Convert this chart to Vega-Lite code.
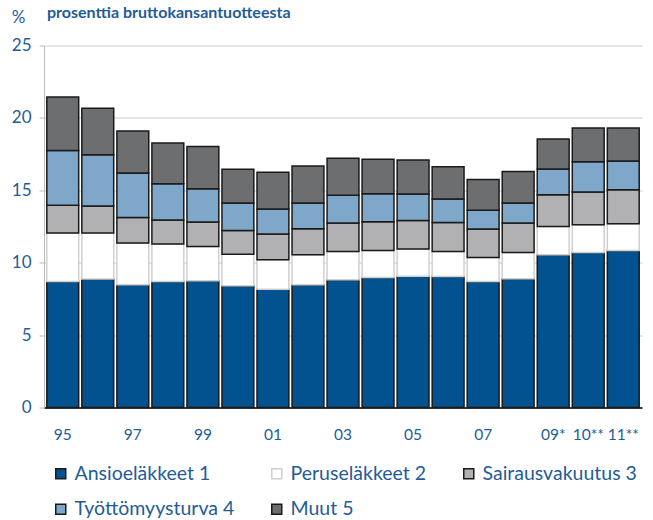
{
  "$schema": "https://vega.github.io/schema/vega-lite/v6.json",
  "autosize": "none",
  "width": 598,
  "height": 362,
  "padding": {"left": 44, "top": 45.5, "right": 11, "bottom": 112.5},
  "background": "white",
  "title": {
    "text": "prosenttia bruttokansantuotteesta",
    "anchor": "start",
    "frame": "group",
    "font": "Lato",
    "fontSize": 16,
    "fontWeight": "bold",
    "color": "#1f5c99",
    "baseline": "top",
    "offset": 0,
    "dx": 3,
    "dy": 12
  },
  "config": {
    "view": {"stroke": null},
    "font": "Lato"
  },
  "data": {
    "values": [
      {"v": "95", "s": "Ansioeläkkeet 1", "n": 1, "y": 8.70},
      {"v": "95", "s": "Peruseläkkeet 2", "n": 2, "y": 3.35},
      {"v": "95", "s": "Sairausvakuutus 3", "n": 3, "y": 1.91},
      {"v": "95", "s": "Työttömyysturva 4", "n": 4, "y": 3.78},
      {"v": "95", "s": "Muut 5", "n": 5, "y": 3.71},
      {"v": "96", "s": "Ansioeläkkeet 1", "n": 1, "y": 8.87},
      {"v": "96", "s": "Peruseläkkeet 2", "n": 2, "y": 3.18},
      {"v": "96", "s": "Sairausvakuutus 3", "n": 3, "y": 1.86},
      {"v": "96", "s": "Työttömyysturva 4", "n": 4, "y": 3.55},
      {"v": "96", "s": "Muut 5", "n": 5, "y": 3.20},
      {"v": "97", "s": "Ansioeläkkeet 1", "n": 1, "y": 8.47},
      {"v": "97", "s": "Peruseläkkeet 2", "n": 2, "y": 2.89},
      {"v": "97", "s": "Sairausvakuutus 3", "n": 3, "y": 1.77},
      {"v": "97", "s": "Työttömyysturva 4", "n": 4, "y": 3.07},
      {"v": "97", "s": "Muut 5", "n": 5, "y": 2.90},
      {"v": "98", "s": "Ansioeläkkeet 1", "n": 1, "y": 8.70},
      {"v": "98", "s": "Peruseläkkeet 2", "n": 2, "y": 2.59},
      {"v": "98", "s": "Sairausvakuutus 3", "n": 3, "y": 1.66},
      {"v": "98", "s": "Työttömyysturva 4", "n": 4, "y": 2.51},
      {"v": "98", "s": "Muut 5", "n": 5, "y": 2.81},
      {"v": "99", "s": "Ansioeläkkeet 1", "n": 1, "y": 8.75},
      {"v": "99", "s": "Peruseläkkeet 2", "n": 2, "y": 2.37},
      {"v": "99", "s": "Sairausvakuutus 3", "n": 3, "y": 1.69},
      {"v": "99", "s": "Työttömyysturva 4", "n": 4, "y": 2.30},
      {"v": "99", "s": "Muut 5", "n": 5, "y": 2.91},
      {"v": "00", "s": "Ansioeläkkeet 1", "n": 1, "y": 8.40},
      {"v": "00", "s": "Peruseläkkeet 2", "n": 2, "y": 2.19},
      {"v": "00", "s": "Sairausvakuutus 3", "n": 3, "y": 1.64},
      {"v": "00", "s": "Työttömyysturva 4", "n": 4, "y": 1.89},
      {"v": "00", "s": "Muut 5", "n": 5, "y": 2.33},
      {"v": "01", "s": "Ansioeläkkeet 1", "n": 1, "y": 8.17},
      {"v": "01", "s": "Peruseläkkeet 2", "n": 2, "y": 2.03},
      {"v": "01", "s": "Sairausvakuutus 3", "n": 3, "y": 1.78},
      {"v": "01", "s": "Työttömyysturva 4", "n": 4, "y": 1.73},
      {"v": "01", "s": "Muut 5", "n": 5, "y": 2.53},
      {"v": "02", "s": "Ansioeläkkeet 1", "n": 1, "y": 8.47},
      {"v": "02", "s": "Peruseläkkeet 2", "n": 2, "y": 2.08},
      {"v": "02", "s": "Sairausvakuutus 3", "n": 3, "y": 1.79},
      {"v": "02", "s": "Työttömyysturva 4", "n": 4, "y": 1.78},
      {"v": "02", "s": "Muut 5", "n": 5, "y": 2.56},
      {"v": "03", "s": "Ansioeläkkeet 1", "n": 1, "y": 8.82},
      {"v": "03", "s": "Peruseläkkeet 2", "n": 2, "y": 1.96},
      {"v": "03", "s": "Sairausvakuutus 3", "n": 3, "y": 1.96},
      {"v": "03", "s": "Työttömyysturva 4", "n": 4, "y": 1.91},
      {"v": "03", "s": "Muut 5", "n": 5, "y": 2.56},
      {"v": "04", "s": "Ansioeläkkeet 1", "n": 1, "y": 8.98},
      {"v": "04", "s": "Peruseläkkeet 2", "n": 2, "y": 1.87},
      {"v": "04", "s": "Sairausvakuutus 3", "n": 3, "y": 1.98},
      {"v": "04", "s": "Työttömyysturva 4", "n": 4, "y": 1.93},
      {"v": "04", "s": "Muut 5", "n": 5, "y": 2.38},
      {"v": "05", "s": "Ansioeläkkeet 1", "n": 1, "y": 9.07},
      {"v": "05", "s": "Peruseläkkeet 2", "n": 2, "y": 1.87},
      {"v": "05", "s": "Sairausvakuutus 3", "n": 3, "y": 1.98},
      {"v": "05", "s": "Työttömyysturva 4", "n": 4, "y": 1.82},
      {"v": "05", "s": "Muut 5", "n": 5, "y": 2.35},
      {"v": "06", "s": "Ansioeläkkeet 1", "n": 1, "y": 9.05},
      {"v": "06", "s": "Peruseläkkeet 2", "n": 2, "y": 1.73},
      {"v": "06", "s": "Sairausvakuutus 3", "n": 3, "y": 2.00},
      {"v": "06", "s": "Työttömyysturva 4", "n": 4, "y": 1.62},
      {"v": "06", "s": "Muut 5", "n": 5, "y": 2.23},
      {"v": "07", "s": "Ansioeläkkeet 1", "n": 1, "y": 8.70},
      {"v": "07", "s": "Peruseläkkeet 2", "n": 2, "y": 1.66},
      {"v": "07", "s": "Sairausvakuutus 3", "n": 3, "y": 1.96},
      {"v": "07", "s": "Työttömyysturva 4", "n": 4, "y": 1.31},
      {"v": "07", "s": "Muut 5", "n": 5, "y": 2.12},
      {"v": "08", "s": "Ansioeläkkeet 1", "n": 1, "y": 8.89},
      {"v": "08", "s": "Peruseläkkeet 2", "n": 2, "y": 1.82},
      {"v": "08", "s": "Sairausvakuutus 3", "n": 3, "y": 2.03},
      {"v": "08", "s": "Työttömyysturva 4", "n": 4, "y": 1.38},
      {"v": "08", "s": "Muut 5", "n": 5, "y": 2.17},
      {"v": "09*", "s": "Ansioeläkkeet 1", "n": 1, "y": 10.55},
      {"v": "09*", "s": "Peruseläkkeet 2", "n": 2, "y": 1.95},
      {"v": "09*", "s": "Sairausvakuutus 3", "n": 3, "y": 2.20},
      {"v": "09*", "s": "Työttömyysturva 4", "n": 4, "y": 1.77},
      {"v": "09*", "s": "Muut 5", "n": 5, "y": 2.08},
      {"v": "10**", "s": "Ansioeläkkeet 1", "n": 1, "y": 10.71},
      {"v": "10**", "s": "Peruseläkkeet 2", "n": 2, "y": 1.91},
      {"v": "10**", "s": "Sairausvakuutus 3", "n": 3, "y": 2.26},
      {"v": "10**", "s": "Työttömyysturva 4", "n": 4, "y": 2.10},
      {"v": "10**", "s": "Muut 5", "n": 5, "y": 2.33},
      {"v": "11**", "s": "Ansioeläkkeet 1", "n": 1, "y": 10.85},
      {"v": "11**", "s": "Peruseläkkeet 2", "n": 2, "y": 1.84},
      {"v": "11**", "s": "Sairausvakuutus 3", "n": 3, "y": 2.35},
      {"v": "11**", "s": "Työttömyysturva 4", "n": 4, "y": 1.99},
      {"v": "11**", "s": "Muut 5", "n": 5, "y": 2.28}
    ]
  },
  "mark": {"type": "bar", "strokeWidth": 1.5},
  "encoding": {
    "x": {
      "field": "v",
      "type": "nominal",
      "sort": null,
      "scale": {"paddingInner": 0.09, "paddingOuter": 0.08},
      "axis": {
        "title": null,
        "values": ["95", "97", "99", "01", "03", "05", "07", "09*", "10**", "11**"],
        "labelAngle": 0,
        "labelFontSize": 15.5,
        "labelColor": "#1f5c99",
        "labelPadding": 20,
        "ticks": false,
        "domainColor": "#000000",
        "domainWidth": 1.5,
        "grid": false
      }
    },
    "y": {
      "field": "y",
      "type": "quantitative",
      "stack": "zero",
      "scale": {"domain": [0, 25], "nice": false},
      "axis": {
        "title": "%",
        "titleAngle": 0,
        "titleFontSize": 17,
        "titleFontWeight": "normal",
        "titleColor": "#1f5c99",
        "titleAlign": "center",
        "titleBaseline": "middle",
        "titleX": -26,
        "titleY": -28,
        "values": [0, 5, 10, 15, 20, 25],
        "labelFontSize": 17,
        "labelColor": "#1f5c99",
        "labelPadding": 8,
        "tickSize": 5,
        "tickColor": "#bbbbbb",
        "domainColor": "#bbbbbb",
        "gridColor": "#cccccc",
        "grid": true
      }
    },
    "order": {"field": "n", "type": "quantitative"},
    "color": {
      "field": "s",
      "type": "nominal",
      "sort": null,
      "scale": {
        "domain": ["Ansioeläkkeet 1", "Peruseläkkeet 2", "Sairausvakuutus 3", "Työttömyysturva 4", "Muut 5"],
        "range": ["#02528f", "#ffffff", "#b1b1b3", "#7fa7c9", "#6d6e70"]
      },
      "legend": {
        "title": null,
        "orient": "none",
        "legendX": 7,
        "legendY": 418,
        "direction": "horizontal",
        "columns": 3,
        "symbolType": "square",
        "symbolSize": 100,
        "symbolStrokeWidth": 1.5,
        "labelFontSize": 19.5,
        "labelColor": "#1f5c99",
        "labelOffset": 4,
        "columnPadding": 32,
        "rowPadding": 15,
        "labelLimit": 300
      }
    },
    "stroke": {
      "field": "s",
      "type": "nominal",
      "sort": null,
      "scale": {
        "domain": ["Ansioeläkkeet 1", "Peruseläkkeet 2", "Sairausvakuutus 3", "Työttömyysturva 4", "Muut 5"],
        "range": ["#1a1a1a", "#d0d0d0", "#1a1a1a", "#1a1a1a", "#1a1a1a"]
      },
      "legend": {
        "title": null,
        "orient": "none",
        "legendX": 7,
        "legendY": 418,
        "direction": "horizontal",
        "columns": 3,
        "symbolType": "square",
        "symbolSize": 100,
        "symbolStrokeWidth": 1.5,
        "labelFontSize": 19.5,
        "labelColor": "#1f5c99",
        "labelOffset": 4,
        "columnPadding": 32,
        "rowPadding": 15,
        "labelLimit": 300
      }
    }
  }
}
